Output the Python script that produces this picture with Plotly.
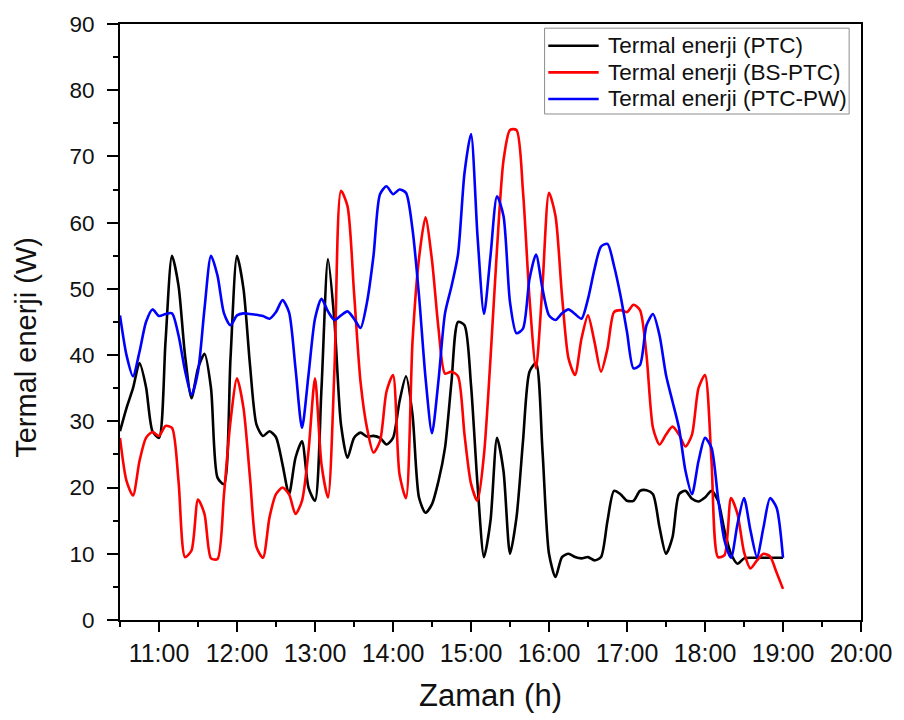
import pandas as pd
import plotly.graph_objects as go

# Measurement times, every 5 minutes from 10:30 to 19:00
times = pd.date_range("2024-06-01 10:30", "2024-06-01 19:00", freq="5min")

# Thermal energy (W)
ptc = [
    28.5, 32, 35, 38.8, 35.2, 28.5,
    27.5, 42, 55, 50.5, 40, 33.5, 38, 40.2, 35, 21.5, 20.5, 39.5,
    55, 50, 38.5, 29.5, 27.8, 28.5, 27.6, 23.5, 19, 24.5, 27, 20,
    18, 35, 54.5, 45, 29.5, 24.5, 27.5, 28.3, 27.7, 27.8, 27.5, 26.5,
    27.5, 33, 36.8, 31, 18.5, 16.2, 17.5, 21, 26, 36, 45, 44.5,
    35.5, 20.5, 9.5, 15, 27.5, 22.5, 10, 15.5, 27, 37.5, 38.8, 25.5,
    10, 6.5, 9.5, 10, 9.5, 9.3, 9.5, 9, 9.5, 15, 19.5, 19,
    18, 18, 19.5, 19.6, 19, 14, 10, 12.5, 19, 19.5, 18.3, 17.9,
    18.5, 19.5, 18, 13.5, 10, 8.5, 9.3, 9.4, 9.4, 9.4, 9.4, 9.4,
    9.4,
]

bs_ptc = [
    27.5, 21, 18.8, 24, 27.5, 28.4,
    27.8, 29.3, 29, 21, 9.5, 10.5, 18.2, 16, 9.3, 9.2, 19, 30,
    36.5, 32, 21.5, 11, 9.4, 15.5, 19, 20, 19, 16, 18, 25.5,
    36.5, 23.5, 18.5, 38, 64.8, 62.5, 49.5, 36, 29, 25.3, 27, 34.5,
    37, 22, 18.4, 42, 54.6, 60.8, 54.3, 44, 37.2, 37.5, 36.8, 28,
    20.6, 18, 25, 39.5, 56, 69.4, 74, 74, 64.7, 48.6, 38, 50.5,
    64.5, 61, 49, 39.5, 37, 42.5, 46, 42, 37.5, 41, 46.5, 46.8,
    46.5, 47.6, 46.8, 40, 29, 26.5, 28, 29.2, 28, 26.2, 28, 35,
    37, 24, 9.5, 9.8, 18.4, 16, 10.3, 7.8, 9, 10, 9.6, 7.2,
    4.7,
]

ptc_pw = [
    46, 40, 36.8, 40.5, 45, 46.9,
    45.9, 46.2, 46.3, 43, 37.7, 34, 37.5, 47, 55, 52, 46.3, 44.5,
    46, 46.3, 46.2, 46.1, 45.9, 45.5, 46.5, 48.3, 46.5, 38, 29, 37,
    45.5, 48.5, 46.6, 45.3, 46, 46.6, 45.5, 44.1, 48, 55, 64.3, 65.5,
    64.3, 65, 64.5, 59, 49, 36.6, 28.2, 36.2, 46.3, 50.4, 55.2, 67.5,
    73.4, 58, 46.2, 55, 64, 61, 48, 43.3, 44, 51.5, 55.2, 50,
    46, 45.3, 46.3, 46.9, 46.2, 45.5, 48.5, 53, 56.4, 56.8, 53.5, 49,
    43.5, 38, 38.5, 44.5, 46.2, 43, 37, 33, 29, 22.5, 19, 24,
    27.5, 26, 18.5, 12, 9.4, 14.5, 18.4, 13.5, 9.5, 14, 18.4, 17,
    9.4,
]

series_names = ["Termal enerji (PTC)", "Termal enerji (BS-PTC)", "Termal enerji (PTC-PW)"]
series_values = [ptc, bs_ptc, ptc_pw]
series_colors = ["#000000", "#ff0000", "#0000ff"]

FONT = "Liberation Sans, Arial, sans-serif"
TEXT = "#111111"

fig = go.Figure()
for name, vals, color in zip(series_names, series_values, series_colors):
    fig.add_trace(go.Scatter(
        x=times, y=vals, name=name, mode="lines", showlegend=False,
        line=dict(color=color, width=2.6, shape="spline", smoothing=0.7),
    ))

fig.update_layout(
    width=904, height=720,
    margin=dict(l=120, r=37, t=16, b=100),
    paper_bgcolor="white", plot_bgcolor="white",
    font=dict(family=FONT, color=TEXT),
)

fig.update_xaxes(
    range=["2024-06-01 10:30", "2024-06-01 20:00"],
    tick0="2024-06-01 11:00", dtick=3600000, tickformat="%H:%M",
    ticks="outside", ticklen=10, tickwidth=1.5, tickcolor="black",
    tickfont=dict(family=FONT, size=25, color=TEXT),
    minor=dict(dtick=1800000, ticks="outside", ticklen=5, tickwidth=1.5, tickcolor="black"),
    showline=True, linecolor="black", linewidth=2, mirror=True,
    showgrid=False, zeroline=False,
)
fig.update_yaxes(
    range=[0, 90], dtick=10,
    ticks="outside", ticklen=11, tickwidth=1.5, tickcolor="black",
    tickfont=dict(family=FONT, size=22.5, color=TEXT), ticklabelstandoff=8,
    minor=dict(dtick=5, ticks="outside", ticklen=5, tickwidth=1.5, tickcolor="black"),
    showline=True, linecolor="black", linewidth=2, mirror=True,
    showgrid=False, zeroline=False,
)

# Legend box in the upper right corner: frame, line swatches and labels
lg_x0, lg_x1, lg_y0, lg_y1 = 0.573, 0.984, 0.849, 0.993
sw_x0, sw_x1, txt_x = 0.578, 0.646, 0.656
row_y = [0.9636, 0.9189, 0.8742]
fig.add_shape(type="rect", xref="paper", yref="paper",
              x0=lg_x0, x1=lg_x1, y0=lg_y0, y1=lg_y1,
              line=dict(color="#8c8c8c", width=1), fillcolor="white", layer="above")
for name, color, ry in zip(series_names, series_colors, row_y):
    fig.add_shape(type="line", xref="paper", yref="paper",
                  x0=sw_x0, x1=sw_x1, y0=ry, y1=ry,
                  line=dict(color=color, width=2.6), layer="above")
    fig.add_annotation(text=name, xref="paper", yref="paper",
                       x=txt_x, y=ry, xanchor="left", yanchor="middle",
                       showarrow=False, font=dict(family=FONT, size=22.5, color=TEXT))

fig.add_annotation(
    text="Termal enerji (W)", xref="paper", yref="paper",
    x=-0.128, y=0.457, xanchor="center", yanchor="middle",
    textangle=-90, showarrow=False,
    font=dict(family=FONT, size=29, color=TEXT),
)
fig.add_annotation(
    text="Zaman (h)", xref="paper", yref="paper",
    x=0.5, y=-0.126, xanchor="center", yanchor="middle",
    showarrow=False,
    font=dict(family=FONT, size=31, color=TEXT),
)

fig.write_html("out.html")
